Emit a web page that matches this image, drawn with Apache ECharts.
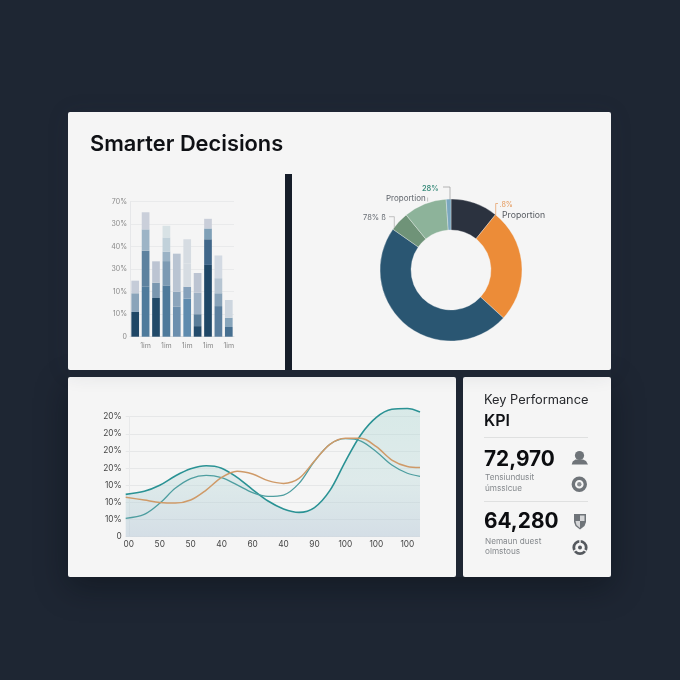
<!DOCTYPE html>
<html><head><meta charset="utf-8">
<style>html,body{margin:0;padding:0;background:#1e2633}#c{width:680px;height:680px}</style>
<script src="https://cdn.jsdelivr.net/npm/echarts@6/dist/echarts.min.js"></script>
</head><body><div id="c"></div>
<script>
const barCategories=['1','1im','3','1m','5','1m','7','1m','9','1m'];
const barTickLabels=['0','10%','10%','30%','40%','30%','70%'];
const tier1=[11,22.2,17.2,22.8,13.3,16.9,4.7,31.9,13.6,4.3];
const tier2=[8.3,16,6.8,10.8,6.7,5.3,5.3,11.4,5.7,4.1];
const tier3=[5.6,9.5,9.5,4.2,16.9,10.4,9.6,4.8,6.7,7.9];
const tier4=[0,7.6,0,6.3,0,10.7,8.7,4.3,10.1,0];
const tier5=[0,0,0,5.2,0,0,0,0,0,0];
const tierColors=[
 ['#1f4766','#4f7b9c','#224a69','#4f7a9b','#6c8fae','#5f8bae','#234b6b','#1f4766','#5b7f9e','#466f90'],
 ['#8aa4ba','#5d829f','#7a97b0','#7c9ab3','#8ba4bb','#86a1bb','#5a7d99','#40678a','#87a2b8','#87a5bb'],
 ['#c5ccd8','#9db4c6','#bcc4d2','#9ab2c5','#b9c4d2','#d6dce2','#9db0c4','#7fa0b7','#b6c5d2','#cdd6df'],
 ['#c5ccd8','#cacfda','#bcc4d2','#c1d1da','#b9c4d2','#d6dce2','#bcc4d2','#c9ced9','#d3dae3','#cdd6df'],
 ['#c5ccd8','#cacfda','#bcc4d2','#d8e2e5','#b9c4d2','#d6dce2','#bcc4d2','#c9ced9','#d3dae3','#cdd6df']];
const barTiers=[tier1,tier2,tier3,tier4,tier5];

const donutNames=['Navy','Orange','Blue','Moss','Sage','Sky'];
const donutValues=[10.8,26.1,48.1,4.4,9.8,1.1];
const donutColors=['#2b323f','#ec8c38','#2a5672','#6f9378','#8db39a','#7ba7bf'];

const lineX=[-0.1,0.5,1,1.5,2,2.5,3,3.5,4,4.5,5,5.5,6,6.5,7,7.5,8,8.5,9,9.41];
const lineA=[24.7,26.5,30,35.4,39.6,41.4,40,34.6,27.5,20.8,16.2,14.2,17,27,44,59.5,69.6,74.3,74.8,72.8];
const lineB=[10.7,13,19.5,28.2,33.9,35.8,34.4,30.2,25.7,23.5,24.3,31.1,44,53.9,57.2,55.8,49.6,41.8,37,35.2];
const lineC=[23,21.4,20,19.6,21.4,27.2,34.6,38.2,36.6,32.7,31.1,34,44.2,53.9,57.4,57.4,52.5,44.7,40.9,40.3];
const lineXLabels=['00','50','50','40','60','40','90','100','100','100'];
const lineYLabels=['0','10%','10%','10%','20%','20%','20%','20%'];

const FONT='Inter, "Liberation Sans", sans-serif';
const CARD='#f5f5f5';
function card(x,y,w,h,shadow){return {type:'rect',z:-10,shape:{x,y,width:w,height:h,r:2},style:Object.assign({fill:CARD},shadow||{})};}
function txt(x,y,t,size,color,weight,align){return {type:'text',z:20,x,y,style:{text:t,font:(weight||400)+' '+size+'px '+FONT,fill:color,textAlign:align||'left',textVerticalAlign:'middle'}};}
function lead(points,color){return {type:'polyline',z:20,shape:{points},style:{stroke:color,lineWidth:.7,fill:null}};}
function ring(cx,cy,r,w,color){return {type:'circle',z:20,shape:{cx,cy,r},style:{fill:'none',stroke:color,lineWidth:w}};}
function dot(cx,cy,r,color){return {type:'circle',z:20,shape:{cx,cy,r},style:{fill:color}};}
function poly(points,color){return {type:'polygon',z:20,shape:{points},style:{fill:color}};}
const ICON='#6f7479';
const OUTER={shadowBlur:30,shadowColor:'rgba(5,9,16,.4)',shadowOffsetY:10};

const graphicEls=[
 {type:'rect',z:-12,shape:{x:68,y:377,width:543,height:200},style:Object.assign({fill:'#1e2633'},OUTER)},
 card(68,377,388,200),card(463,377,148,200),
 card(68,112,543,258,{shadowBlur:22,shadowColor:'rgba(40,50,70,.14)',shadowOffsetY:2}),
 {type:'rect',z:-9,shape:{x:285,y:174,width:7,height:196},style:{fill:'#161d29'}},
 {type:'rect',z:-9,shape:{x:68,y:370,width:543,height:7},style:{fill:'#1e2633'}},
 txt(90,144.5,'Smarter Decisions',21.8,'#0f1115',600),
 // donut annotations
 txt(422,189,'28%',7.4,'#3f8f7f',600),
 txt(386,198.5,'Proportion',8,'#5f646b',400),
 txt(363,217.5,'78% ß',7.5,'#666b72',400),
 txt(499.5,205,'.8%',7.2,'#e59a5c',400),
 txt(502,215,'Proportion',8.7,'#55595f',400),
 lead([[443,187],[450,187],[450,200]],'#999'),
 lead([[427.6,197.5],[427.6,201.5]],'#aaa'),
 lead([[389,216.7],[394.3,216.7],[394.3,228]],'#aaa'),
 lead([[498,203.5],[495.7,203.5],[495.7,215.5]],'#e59a5c'),
 // KPI
 txt(484,400.5,'Key Performance',12.8,'#26282c',400),
 txt(484,421,'KPI',16,'#0f1115',600),
 {type:'rect',z:20,shape:{x:484,y:437,width:104,height:1},style:{fill:'#dfe0e0'}},
 txt(484,460,'72,970',20.8,'#0c0d10',700),
 txt(485,478,'Tensiundusit',8.2,'#85898d',400),
 txt(485,488.5,'úmsslcue',8.2,'#85898d',400),
 {type:'rect',z:20,shape:{x:484,y:501,width:104,height:1},style:{fill:'#dfe0e0'}},
 txt(484,522,'64,280',20.8,'#0c0d10',700),
 txt(485,541.7,'Nemaun duest',8.2,'#85898d',400),
 txt(485,552,'olmstous',8.2,'#85898d',400),
 dot(579.5,455.5,4.6,ICON),
 poly([[571.7,464.5],[572.7,461.5],[575.5,459.5],[583,459.5],[586,461],[588,464.5]],ICON),
 ring(579.3,484.3,6,3.4,ICON),dot(579.3,484.3,2.2,'#8a8e92'),
 poly([[574,514],[586,514],[586,522],[584.5,526],[580,529.5],[575.5,526],[574,522]],ICON),
 poly([[580,515.5],[584.5,515.5],[584.5,521],[580,521]],'#d5d6d8'),
 poly([[580,521],[575.5,521],[576.5,525],[580,528]],'#d5d6d8'),
 ring(580,547.5,6.2,2.8,'#55595e'),dot(580,547.5,2,'#55595e'),
 {type:'rect',z:21,shape:{x:579.3,y:540,width:1.4,height:4},style:{fill:CARD}},
 {type:'rect',z:21,rotation:-2.1,originX:580,originY:547.5,shape:{x:579.3,y:540,width:1.4,height:4},style:{fill:CARD}},
 {type:'rect',z:21,rotation:2.1,originX:580,originY:547.5,shape:{x:579.3,y:540,width:1.4,height:4},style:{fill:CARD}}
];

const option={
 animation:false,backgroundColor:'#1e2633',textStyle:{fontFamily:FONT},
 graphic:{elements:graphicEls},
 grid:[
  {left:130,top:201.7,width:104,height:135},
  {left:125.7,top:416.7,width:294.3,height:120}
 ],
 xAxis:[
  {type:'category',gridIndex:0,data:barCategories,
   axisLine:{lineStyle:{color:'#dcdee0'}},axisTick:{show:false},
   axisLabel:{interval:0,fontSize:7,color:'#888',margin:6,fontFamily:FONT,
     formatter:(v,i)=>i%2===1?'1im':''}},
  {type:'value',gridIndex:1,min:-0.1,max:9.41,
   axisLine:{show:false},axisTick:{show:false},splitLine:{show:false},
   axisLabel:{customValues:[0,1,2,3,4,5,6,7,8,9],fontSize:8.3,color:'#444',margin:4,fontFamily:FONT,
     formatter:v=>lineXLabels[Math.round(v)]}}
 ],
 yAxis:[
  {type:'value',gridIndex:0,min:0,max:60,interval:10,
   axisLine:{show:true,lineStyle:{color:'#e6e7e9'}},axisTick:{show:false},
   splitLine:{lineStyle:{color:'#e6e7e9',width:.8}},
   axisLabel:{fontSize:7,color:'#888',margin:3,fontFamily:FONT,formatter:v=>barTickLabels[v/10]}},
  {type:'value',gridIndex:1,min:0,max:70,interval:10,
   axisLine:{show:true,lineStyle:{color:'#e8e9ea'}},axisTick:{show:false},
   splitLine:{lineStyle:{color:'#e6e7e8',width:1}},
   axisLabel:{fontSize:8.3,color:'#444',margin:4,fontFamily:FONT,formatter:v=>lineYLabels[v/10]}}
 ],
 series:[
  ...barTiers.map((t,ti)=>({type:'bar',xAxisIndex:0,yAxisIndex:0,stack:'b',barWidth:7.7,
    data:t.map((v,i)=>({value:v,itemStyle:{color:tierColors[ti][i]}}))})),
  {type:'pie',center:[451,270],radius:[40,71],startAngle:90,clockwise:true,label:{show:false},labelLine:{show:false},
   silent:true,itemStyle:{borderColor:'rgba(245,245,245,.55)',borderWidth:.6},
   data:donutNames.map((n,i)=>({name:n,value:donutValues[i],itemStyle:{color:donutColors[i]}}))},
  {type:'line',xAxisIndex:1,yAxisIndex:1,smooth:.33,symbol:'none',clip:false,z:3,
   data:lineX.map((x,i)=>[x,lineA[i]]),lineStyle:{color:'#2a9294',width:1.6},
   areaStyle:{color:{type:'linear',x:0,y:0,x2:0,y2:1,colorStops:[{offset:0,color:'rgba(170,215,210,.55)'},{offset:.55,color:'rgba(180,215,215,.5)'},{offset:1,color:'rgba(178,198,214,.7)'}]}}},
  {type:'line',xAxisIndex:1,yAxisIndex:1,smooth:.33,symbol:'none',clip:false,z:4,
   data:lineX.map((x,i)=>[x,lineB[i]]),lineStyle:{color:'#4e9ea0',width:1.3}},
  {type:'line',xAxisIndex:1,yAxisIndex:1,smooth:.33,symbol:'none',clip:false,z:5,
   data:lineX.map((x,i)=>[x,lineC[i]]),lineStyle:{color:'#cf9a68',width:1.5}}
 ]
};
echarts.init(document.getElementById('c'),null,{renderer:'canvas'}).setOption(option);
</script></body></html>
